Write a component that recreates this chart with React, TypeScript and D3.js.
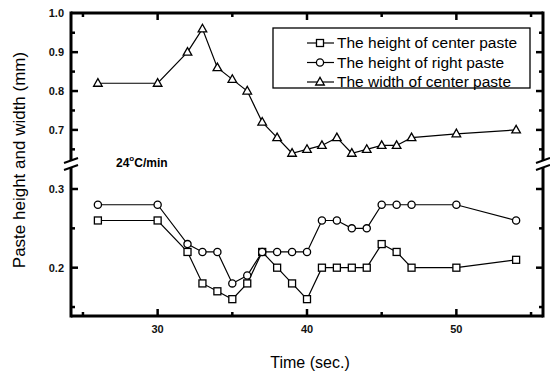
import React, { useEffect, useRef } from "react";
import * as d3 from "d3";

// time (sec.)
const times = [26, 30, 32, 33, 34, 35, 36, 37, 38, 39, 40, 41, 42, 43, 44, 45, 46, 47, 50, 54];
// height of center paste (mm)
const centerHeight = [0.26, 0.26, 0.22, 0.18, 0.17, 0.16, 0.18, 0.22, 0.2, 0.18, 0.16, 0.2, 0.2, 0.2, 0.2, 0.23, 0.22, 0.2, 0.2, 0.21];
// height of right paste (mm)
const rightHeight = [0.28, 0.28, 0.23, 0.22, 0.22, 0.18, 0.19, 0.22, 0.22, 0.22, 0.22, 0.26, 0.26, 0.25, 0.25, 0.28, 0.28, 0.28, 0.28, 0.26];
// width of center paste (mm)
const centerWidth = [0.82, 0.82, 0.9, 0.96, 0.86, 0.83, 0.8, 0.72, 0.68, 0.64, 0.65, 0.66, 0.68, 0.64, 0.65, 0.66, 0.66, 0.68, 0.69, 0.7];

const xMajor = [30, 40, 50];
const xMinor = [25, 35, 45, 55];
const yUpMajor = [1.0, 0.9, 0.8, 0.7];
const yUpMinor = [0.95, 0.85, 0.75, 0.65];
const yLowMajor = [0.3, 0.2];
const yLowMinor = [0.25, 0.15];

const legendNames = ["The height of center paste", "The height of right paste", "The width of center paste"];

const FONT = "'Liberation Sans', Arial, Helvetica, sans-serif";

const App = () => {
  const ref = useRef(null);

  useEffect(() => {
    const svg = d3.select(ref.current);
    svg.selectAll("*").remove();

    const left = 71, right = 543, top = 13, bottom = 316, breakY = 164;

    const x = d3.scaleLinear().domain([24.2, 55.8]).range([left, right]);
    const yUp = d3.scaleLinear().domain([0.62, 1.0]).range([161, 13.3]);
    const yLow = d3.scaleLinear().domain([0.1386, 0.3]).range([316, 189]);

    // frame
    const frame = svg.append("g").attr("stroke", "#000").attr("stroke-width", 3).attr("fill", "none");
    frame.append("line").attr("x1", left).attr("x2", right).attr("y1", top).attr("y2", top);
    frame.append("line").attr("x1", left).attr("x2", right).attr("y1", bottom).attr("y2", bottom);
    [left, right].forEach((xx) => {
      frame.append("line").attr("x1", xx).attr("x2", xx).attr("y1", top - 1.5).attr("y2", breakY - 3);
      frame.append("line").attr("x1", xx).attr("x2", xx).attr("y1", breakY + 3).attr("y2", bottom + 1.5);
      // axis break
      const b = svg.append("g");
      b.append("path")
        .attr("d", `M${xx - 7},${breakY + 1} L${xx + 7},${breakY - 5} L${xx + 7},${breakY - 1} L${xx - 7},${breakY + 5} Z`)
        .attr("fill", "#fff");
      b.append("line").attr("x1", xx - 7).attr("y1", breakY - 1).attr("x2", xx + 7).attr("y2", breakY - 6)
        .attr("stroke", "#000").attr("stroke-width", 2);
      b.append("line").attr("x1", xx - 7).attr("y1", breakY + 6).attr("x2", xx + 7).attr("y2", breakY + 1)
        .attr("stroke", "#000").attr("stroke-width", 2);
    });

    // ticks
    const tk = svg.append("g").attr("stroke", "#000").attr("stroke-width", 2.5);
    const xt = (vals: number[], len: number) =>
      vals.forEach((v) => {
        tk.append("line").attr("x1", x(v)).attr("x2", x(v)).attr("y1", bottom).attr("y2", bottom - len);
        tk.append("line").attr("x1", x(v)).attr("x2", x(v)).attr("y1", top).attr("y2", top + len);
      });
    xt(xMajor, 7);
    xt(xMinor, 4);
    const yt = (vals: number[], sc: any, len: number) =>
      vals.forEach((v) => {
        tk.append("line").attr("y1", sc(v)).attr("y2", sc(v)).attr("x1", left).attr("x2", left + len);
        tk.append("line").attr("y1", sc(v)).attr("y2", sc(v)).attr("x1", right).attr("x2", right - len);
      });
    yt(yUpMajor.filter((v) => v < 1), yUp, 7);
    yt(yUpMinor, yUp, 4);
    yt(yLowMajor, yLow, 7);
    yt(yLowMinor, yLow, 4);

    // tick labels
    const lab = svg.append("g").attr("font-family", FONT).attr("font-size", 11).attr("font-weight", "bold").attr("fill", "#111");
    xMajor.forEach((v) => {
      lab.append("text").attr("x", x(v)).attr("y", 333).attr("text-anchor", "middle").text(v);
    });
    yUpMajor.forEach((v) => {
      lab.append("text").attr("x", left - 7).attr("y", yUp(v) + 4).attr("text-anchor", "end").text(d3.format(".1f")(v));
    });
    yLowMajor.forEach((v) => {
      lab.append("text").attr("x", left - 7).attr("y", yLow(v) + 4).attr("text-anchor", "end").text(d3.format(".1f")(v));
    });

    // axis titles
    svg.append("text").attr("x", 310).attr("y", 368).attr("text-anchor", "middle")
      .attr("font-family", FONT).attr("font-size", 16).text("Time (sec.)");
    svg.append("text").attr("transform", `translate(25,${160}) rotate(-90)`).attr("text-anchor", "middle")
      .attr("font-family", FONT).attr("font-size", 17).text("Paste height and width (mm)");

    // annotation
    const ann = svg.append("text").attr("x", 116).attr("y", 167).attr("font-family", FONT)
      .attr("font-size", 12).attr("font-weight", "bold");
    ann.append("tspan").text("24");
    ann.append("tspan").attr("font-size", 8).attr("dy", -6).text("o");
    ann.append("tspan").attr("dy", 6).text("C/min");

    const series = [
      { vals: centerHeight, sc: yLow, mark: "square" },
      { vals: rightHeight, sc: yLow, mark: "circle" },
      { vals: centerWidth, sc: yUp, mark: "triangle" },
    ];

    const drawMark = (g: any, mark: string, cx: number, cy: number) => {
      if (mark === "square") {
        g.append("rect").attr("x", cx - 3.5).attr("y", cy - 3.5).attr("width", 7).attr("height", 7)
          .attr("fill", "#fff").attr("stroke", "#000").attr("stroke-width", 1.3);
      } else if (mark === "circle") {
        g.append("circle").attr("cx", cx).attr("cy", cy).attr("r", 3.6)
          .attr("fill", "#fff").attr("stroke", "#000").attr("stroke-width", 1.3);
      } else {
        g.append("path").attr("d", `M${cx},${cy - 4.6} L${cx + 4.3},${cy + 3} L${cx - 4.3},${cy + 3} Z`)
          .attr("fill", "#fff").attr("stroke", "#000").attr("stroke-width", 1.3);
      }
    };

    series.forEach((s) => {
      const pts: [number, number][] = times.map((t, i) => [x(t), s.sc(s.vals[i])]);
      svg.append("path").attr("d", d3.line()(pts)).attr("fill", "none")
        .attr("stroke", "#000").attr("stroke-width", 1.2);
      const g = svg.append("g");
      pts.forEach((p) => drawMark(g, s.mark, p[0], p[1]));
    });

    // legend
    const lg = svg.append("g");
    lg.append("rect").attr("x", 273).attr("y", 28).attr("width", 257).attr("height", 60)
      .attr("fill", "#fff").attr("stroke", "#000").attr("stroke-width", 1.3);
    series.forEach((s, i) => {
      const cy = 43 + i * 19.5;
      lg.append("line").attr("x1", 307).attr("x2", 334).attr("y1", cy).attr("y2", cy)
        .attr("stroke", "#000").attr("stroke-width", 1.2);
      drawMark(lg, s.mark, 320, cy);
      lg.append("text").attr("x", 337).attr("y", cy + 5).attr("font-family", FONT).attr("font-size", 15.5)
        .text(legendNames[i]);
    });
  }, []);

  return (
    <svg
      ref={ref}
      width={550}
      height={374}
      style={{ position: "absolute", left: 0, top: 0, background: "#fff" }}
    ></svg>
  );
};

export default App;
